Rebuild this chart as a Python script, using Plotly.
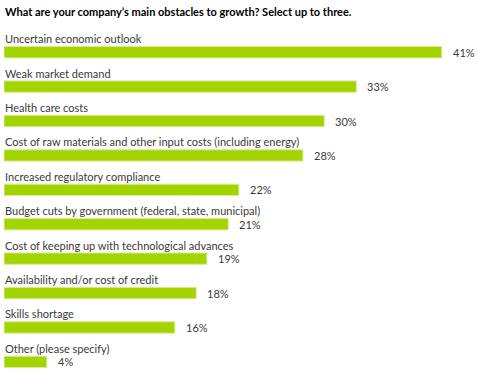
import plotly.graph_objects as go

title = "What are your company\u2019s main obstacles to growth? Select up to three."
categories = [
    "Uncertain economic outlook",
    "Weak market demand",
    "Health care costs",
    "Cost of raw materials and other input costs (including energy)",
    "Increased regulatory compliance",
    "Budget cuts by government (federal, state, municipal)",
    "Cost of keeping up with technological advances",
    "Availability and/or cost of credit",
    "Skills shortage",
    "Other (please specify)",
]
values = [41, 33, 30, 28, 22, 21, 19, 18, 16, 4]

FONT = "Lato"
fig = go.Figure()
fig.add_trace(go.Bar(
    x=values, y=categories, orientation="h",
    marker=dict(color="#a4d400", line=dict(color="#d6ec96", width=1)),
    width=0.33, hoverinfo="skip",
))

annotations = []
for c, v in zip(categories, values):
    annotations.append(dict(x=0, y=c, xref="x", yref="y", text=c, showarrow=False,
                            xanchor="left", yanchor="middle", yshift=13.5, xshift=-1,
                            font=dict(family=FONT, size=11, color="#3a3a3a")))
    annotations.append(dict(x=v, y=c, xref="x", yref="y", text=f"{v}%", showarrow=False,
                            xanchor="left", yanchor="middle", xshift=9,
                            font=dict(family=FONT, size=11, color="#3a3a3a")))
annotations.append(dict(x=0, y=1, xref="paper", yref="paper", yanchor="top", xanchor="left",
                        text=f"<b>{title}</b>", showarrow=False, xshift=-1, yshift=32,
                        font=dict(family=FONT, size=11, color="#000000")))

fig.update_layout(
    width=478, height=377,
    margin=dict(l=4, r=0, t=35, b=0),
    paper_bgcolor="white", plot_bgcolor="white",
    showlegend=False,
    xaxis=dict(range=[0, 44.4], visible=False, fixedrange=True),
    yaxis=dict(range=[9.44, -0.5], visible=False, fixedrange=True),
    annotations=annotations,
)
fig.write_html("out.html", config={"displayModeBar": False},
               post_script="document.body.style.margin='0';document.body.style.overflow='hidden';")
